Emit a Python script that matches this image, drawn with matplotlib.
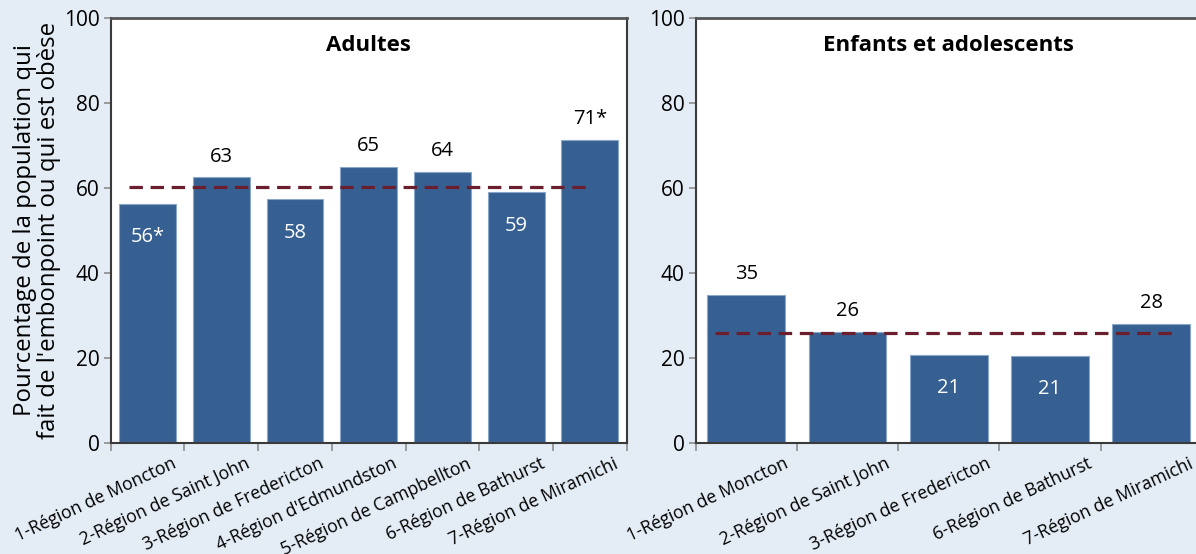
"""Overweight/obesity share by health region, adults vs children, two bar panels."""

import matplotlib
matplotlib.use("Agg")
import matplotlib.pyplot as plt
import matplotlib.transforms as mtransforms
from matplotlib.ticker import MultipleLocator, FixedLocator

plt.rcParams["font.family"] = ["Open Sans", "DejaVu Sans"]

BG = "#e4ecf5"
BAR = "#376092"
BAR_EDGE = "#8aa6c8"
AVG = "#6b1f2e"
FRAME = "#3a3a3a"
TICK = "#8c8c8c"

# adults
adult_regions = [
    "1-Région de Moncton", "2-Région de Saint John", "3-Région de Fredericton",
    "4-Région d'Edmundston", "5-Région de Campbellton", "6-Région de Bathurst",
    "7-Région de Miramichi",
]
adult_values = [56.2, 62.5, 57.3, 64.9, 63.7, 59.0, 71.3]
adult_labels = ["56*", "63", "58", "65", "64", "59", "71*"]
adult_avg = 60.2

# children and teens
child_regions = [
    "1-Région de Moncton", "2-Région de Saint John", "3-Région de Fredericton",
    "6-Région de Bathurst", "7-Région de Miramichi",
]
child_values = [34.8, 26.1, 20.7, 20.5, 28.0]
child_labels = ["35", "26", "21", "21", "28"]
child_avg = 26.0

YLABEL = "Pourcentage de la population qui\nfait de l'embonpoint ou qui est obèse"


def draw_panel(fig, ax, regions, values, labels, avg, title, avg_span):
    n = len(regions)
    xs = [i + 0.5 for i in range(n)]
    ax.bar(xs, values, width=0.77, color=BAR, edgecolor=BAR_EDGE, linewidth=0.8, zorder=2)
    ax.hlines(avg, avg_span[0], avg_span[1], colors=AVG, linewidth=2.3,
              linestyles=(0, (4.2, 2.4)), zorder=3)

    # below-average values sit inside the bar, the rest above it
    for x, v, lab in zip(xs, values, labels):
        if v < avg:
            ax.annotate(lab, (x, v), xytext=(0, -24), textcoords="offset points",
                        ha="center", va="center", color="white", fontsize=14.5, zorder=4)
        else:
            ax.annotate(lab, (x, v), xytext=(0, 15), textcoords="offset points",
                        ha="center", va="center", color="black", fontsize=14.5, zorder=4)

    ax.set_xlim(0, n)
    ax.set_ylim(0, 100)
    ax.set_facecolor("white")
    ax.text(0.5, 0.936, title, transform=ax.transAxes, ha="center", va="center",
            fontsize=16, fontweight="bold")

    ax.yaxis.set_major_locator(MultipleLocator(20))
    ax.tick_params(axis="y", which="major", direction="out", length=5, width=1.2,
                   color=TICK, labelsize=15, pad=3)

    # category names hang off the right-hand boundary tick of each category
    ax.xaxis.set_major_locator(FixedLocator([i + 1 for i in range(n)]))
    ax.xaxis.set_minor_locator(FixedLocator([0]))
    ax.tick_params(axis="x", which="both", direction="out", length=6, width=1.2,
                   color=TICK, pad=2.5)
    ax.set_xticklabels(regions, rotation=25, ha="right", rotation_mode="anchor", fontsize=12.7)
    shift = mtransforms.ScaledTranslation(-9.5 / 72, 0, fig.dpi_scale_trans)
    for lbl in ax.get_xticklabels():
        lbl.set_transform(lbl.get_transform() + shift)

    for side in ("top", "bottom", "left", "right"):
        ax.spines[side].set_color(FRAME)
        ax.spines[side].set_linewidth(1.5)
    ax.spines["top"].set_color("#555555")
    ax.spines["top"].set_linewidth(2)


fig = plt.figure(figsize=(11.96, 5.54), dpi=100, facecolor=BG)
ax_adult = fig.add_axes([110.7 / 1196, 111 / 554, 516 / 1196, 425 / 554])
ax_child = fig.add_axes([695.7 / 1196, 111 / 554, 506 / 1196, 425 / 554])

draw_panel(fig, ax_adult, adult_regions, adult_values, adult_labels, adult_avg,
           "Adultes", (0.25, 6.51))
draw_panel(fig, ax_child, child_regions, child_values, child_labels, child_avg,
           "Enfants et adolescents", (0.19, 4.73))

ax_adult.set_ylabel(YLABEL, fontsize=17.3, linespacing=1.0, labelpad=2)

fig.savefig("out.png", dpi=100, facecolor=BG)
